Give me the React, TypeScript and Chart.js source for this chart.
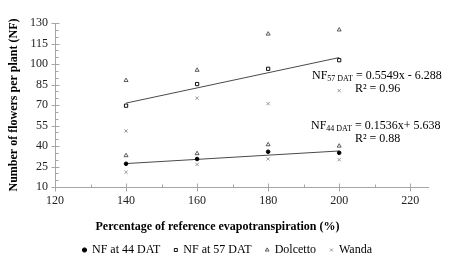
import React, { useEffect, useRef } from "react";
import { Chart, registerables } from "chart.js";

Chart.register(...registerables);

// ---- data ----
const etLevels = [140, 160, 180, 200];
const nf44 = [27, 30.5, 35.8, 35];
const nf57 = [69.5, 85.3, 96.5, 102.8];
const dolcetto44 = [33, 34.5, 41, 40];
const dolcetto57 = [88, 95.5, 122, 125];
const wanda44 = [20.8, 26.5, 30.5, 30];
const wanda57 = [51, 75, 71, 80.5];
const trendX = [140, 200];
const trend44 = [27.14, 36.36];
const trend57 = [71.4, 104.7];
const xTicks = [120, 140, 160, 180, 200, 220];
const yTicks = [10, 25, 40, 55, 70, 85, 100, 115, 130];
const seriesNames = ["NF at 44 DAT", "NF at 57 DAT", "Dolcetto", "Wanda"];
const xTitle = "Percentage of reference evapotranspiration (%)";
const yTitle = "Number of flowers per plant (NF)";
const eq57 = { sub: "57 DAT", rest: " = 0.5549x - 6.288", r2: "R\u00B2 = 0.96" };
const eq44 = { sub: "44 DAT", rest: " = 0.1536x+ 5.638", r2: "R\u00B2 = 0.88" };

const FONT = '"Liberation Serif", "Times New Roman", serif';
const AXIS = "#a6a6a6";

const pts = (xs: number[], ys: number[]) => xs.map((x, i) => ({ x, y: ys[i] }));

const decor = {
  id: "decor",
  afterLayout(chart: any) {
    // let the legend be centred on the whole canvas, as in the reference
    const lg = chart.legend;
    if (lg) {
      lg.left = 0;
      lg.right = chart.width;
      lg.width = chart.width;
    }
  },
  afterDraw(chart: any) {
    const ctx = chart.ctx as CanvasRenderingContext2D;
    const xs = chart.scales.x;
    const ys = chart.scales.y;
    const { left, bottom } = chart.chartArea;
    const ax = Math.round(left) + 0.5;
    const ay = Math.round(bottom) + 0.5;
    ctx.save();
    ctx.strokeStyle = AXIS;
    ctx.lineWidth = 1;
    ctx.beginPath();
    // y ticks: major crossing, minor inside
    yTicks.forEach((v, i) => {
      const p = Math.round(ys.getPixelForValue(v)) + 0.5;
      ctx.moveTo(ax - 4, p);
      ctx.lineTo(ax + 4, p);
      if (i < yTicks.length - 1) {
        const step = (yTicks[i + 1] - v) / 3;
        for (let k = 1; k < 3; k++) {
          const q = Math.round(ys.getPixelForValue(v + step * k)) + 0.5;
          ctx.moveTo(ax, q);
          ctx.lineTo(ax + 3, q);
        }
      }
    });
    // x ticks
    xTicks.forEach((v, i) => {
      const p = Math.round(xs.getPixelForValue(v)) + 0.5;
      ctx.moveTo(p, ay - 4);
      ctx.lineTo(p, ay + 4);
      if (i < xTicks.length - 1) {
        const q = Math.round(xs.getPixelForValue((v + xTicks[i + 1]) / 2)) + 0.5;
        ctx.moveTo(q, ay);
        ctx.lineTo(q, ay - 3);
      }
    });
    ctx.stroke();

    // x title
    ctx.fillStyle = "#000";
    ctx.font = `bold 12px ${FONT}`;
    ctx.textAlign = "center";
    ctx.textBaseline = "middle";
    ctx.fillText(xTitle, 217.5, 227);

    // equations
    const drawEq = (x0: number, yMid: number, eq: any) => {
      ctx.textAlign = "left";
      ctx.textBaseline = "middle";
      ctx.font = `12px ${FONT}`;
      ctx.fillText("NF", x0, yMid);
      let w = ctx.measureText("NF").width;
      ctx.font = `8px ${FONT}`;
      ctx.fillText(eq.sub, x0 + w, yMid + 3);
      w += ctx.measureText(eq.sub).width;
      ctx.font = `12px ${FONT}`;
      ctx.fillText(eq.rest, x0 + w, yMid);
      ctx.fillText(eq.r2, 355, yMid + 13);
    };
    drawEq(312, 76, eq57);
    drawEq(311, 126, eq44);
    ctx.restore();
  },
};

export default function App() {
  const ref = useRef<HTMLCanvasElement>(null);
  useEffect(() => {
    if (!ref.current) return;
    const chart = new Chart(ref.current, {
      type: "scatter",
      data: {
        datasets: [
          {
            label: seriesNames[0],
            data: pts(etLevels, nf44),
            pointStyle: "circle",
            pointRadius: 1.8,
            backgroundColor: "#000",
            borderColor: "#000",
            borderWidth: 1,
          },
          {
            label: seriesNames[1],
            data: pts(etLevels, nf57),
            pointStyle: "rect",
            pointRadius: 2.3,
            backgroundColor: "#fff",
            borderColor: "#111",
            borderWidth: 1,
          },
          {
            label: seriesNames[2],
            data: pts(etLevels, dolcetto44).concat(pts(etLevels, dolcetto57)),
            pointStyle: "triangle",
            pointRadius: 2.3,
            backgroundColor: "rgba(255,255,255,0)",
            borderColor: "#333",
            borderWidth: 0.8,
          },
          {
            label: seriesNames[3],
            data: pts(etLevels, wanda44).concat(pts(etLevels, wanda57)),
            pointStyle: "crossRot",
            pointRadius: 2.3,
            backgroundColor: "#8c8c8c",
            borderColor: "#8c8c8c",
            borderWidth: 0.9,
          },
          {
            label: "trend57",
            data: pts(trendX, trend57),
            showLine: true,
            pointRadius: 0,
            borderColor: "#4a4a4a",
            borderWidth: 1,
          },
          {
            label: "trend44",
            data: pts(trendX, trend44),
            showLine: true,
            pointRadius: 0,
            borderColor: "#4a4a4a",
            borderWidth: 1,
          },
        ],
      },
      options: {
        responsive: false,
        animation: false,
        layout: { padding: { top: 23, right: 27, left: 0, bottom: 0 } },
        plugins: {
          tooltip: { enabled: false },
          legend: {
            position: "bottom",
            labels: {
              usePointStyle: true,
              boxWidth: 3,
              boxHeight: 3,
              padding: 14,
              color: "#000",
              font: { size: 12, family: FONT },
              filter: (item: any) => item.datasetIndex < 4,
            },
          },
        },
        scales: {
          x: {
            type: "linear",
            min: 120,
            max: 225,
            afterBuildTicks: (s: any) => {
              s.ticks = xTicks.map((v) => ({ value: v }));
            },
            afterFit: (s: any) => {
              s.height = 43;
            },
            grid: { display: true, drawOnChartArea: false, drawTicks: false },
            border: { display: true, color: AXIS, width: 1 },
            ticks: { padding: 7, color: "#222", font: { size: 12, family: FONT }, maxRotation: 0 },
          },
          y: {
            type: "linear",
            min: 10,
            max: 130,
            afterBuildTicks: (s: any) => {
              s.ticks = yTicks.map((v) => ({ value: v }));
            },
            afterFit: (s: any) => {
              s.width = 55;
            },
            grid: { display: true, drawOnChartArea: false, drawTicks: false },
            border: { display: true, color: AXIS, width: 1 },
            ticks: { padding: 7, color: "#222", font: { size: 12, family: FONT } },
            title: {
              display: true,
              text: yTitle,
              color: "#000",
              font: { size: 12, weight: "bold", family: FONT },
              padding: { top: 7, bottom: 0 },
            },
          },
        },
      },
      plugins: [decor],
    } as any);
    return () => chart.destroy();
  }, []);
  return (
    <div style={{ position: "fixed", left: 0, top: 0, width: 455, height: 266, background: "#fff" }}>
      <canvas ref={ref} width={455} height={266} style={{ display: "block" }} />
    </div>
  );
}
